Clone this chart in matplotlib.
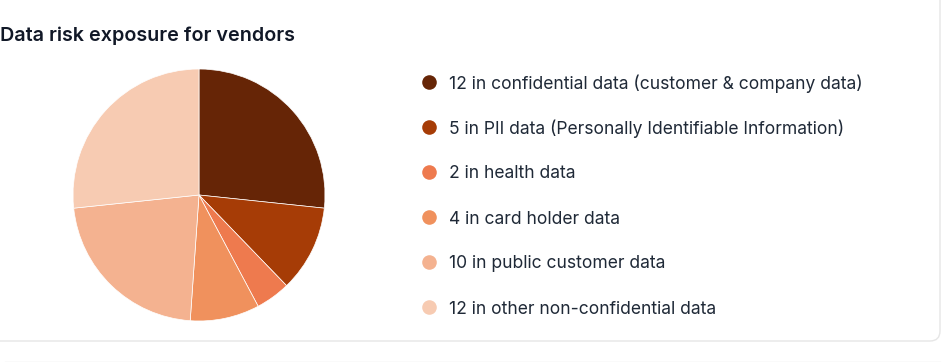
import matplotlib
matplotlib.use("Agg")
import matplotlib.pyplot as plt
from matplotlib.patches import FancyBboxPatch

plt.rcParams['font.family'] = ['Inter', 'DejaVu Sans']

title = "Data risk exposure for vendors"
categories = [
    "in confidential data (customer & company data)",
    "in PII data (Personally Identifiable Information)",
    "in health data",
    "in card holder data",
    "in public customer data",
    "in other non-confidential data",
]
values = [12, 5, 2, 4, 10, 12]
colors = ["#662506", "#a63c06", "#ee7a4e", "#f0915d", "#f4b290", "#f7cbb2"]

W, H = 942, 362
fig = plt.figure(figsize=(W / 100, H / 100), dpi=100)
fig.patch.set_facecolor("white")

# overlay in pixel coords
ov = fig.add_axes([0, 0, 1, 1])
ov.set_xlim(0, W)
ov.set_ylim(H, 0)
ov.axis("off")

# card border
card = FancyBboxPatch((-10, -10), 950, 351, boxstyle="round,pad=0,rounding_size=10",
                      facecolor="none", edgecolor="#e6e6e6", linewidth=1)
ov.add_patch(card)
ov.plot([5, 940], [361.5, 361.5], color="#e6e6e6", lw=1)

ov.text(0, 36, title, fontsize=14.2, fontweight="semibold", color="#111827",
        va="center", ha="left")

# pie
cx, cy, r = 199, 195, 126
pax = fig.add_axes([(cx - r) / W, (H - cy - r) / H, 2 * r / W, 2 * r / H])
pax.pie(values, colors=colors, startangle=90, counterclock=False,
        wedgeprops=dict(edgecolor="white", linewidth=0.5))
pax.set_aspect("auto")
pax.set_xlim(-1, 1)
pax.set_ylim(-1, 1)

# legend
y0, dy = 82, 45
for i, (v, c, lab) in enumerate(zip(values, colors, categories)):
    y = y0 + i * dy
    ov.plot([429], [y], marker="o", markersize=10.5, color=c, markeredgewidth=0)
    ov.text(449, y + 2, f"{v} {lab}", fontsize=12.6, color="#1f2937",
            va="center", ha="left")

fig.savefig("out.png", dpi=100, facecolor="white")
